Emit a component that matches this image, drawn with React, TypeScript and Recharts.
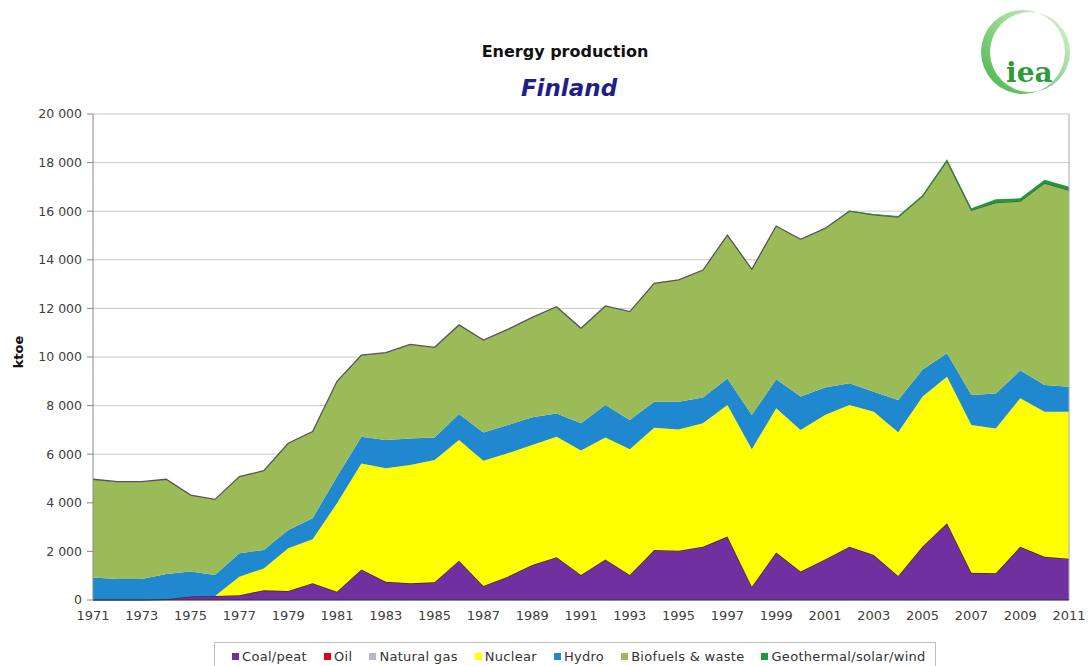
import { AreaChart, Area, XAxis, YAxis, CartesianGrid, ReferenceLine } from 'recharts';

// Finland energy production by source, ktoe
const YEARS = [
  1971, 1972, 1973, 1974, 1975, 1976, 1977, 1978, 1979, 1980,
  1981, 1982, 1983, 1984, 1985, 1986, 1987, 1988, 1989, 1990,
  1991, 1992, 1993, 1994, 1995, 1996, 1997, 1998, 1999, 2000,
  2001, 2002, 2003, 2004, 2005, 2006, 2007, 2008, 2009, 2010, 2011,
];

const COAL = [
  10, 10, 10, 30, 140, 160, 200, 400, 370, 690,
  340, 1260, 750, 690, 730, 1620, 580, 960, 1440, 1760,
  1030, 1670, 1030, 2060, 2030, 2190, 2610, 550, 1950, 1170,
  1670, 2190, 1850, 990, 2200, 3160, 1120, 1100, 2190, 1780, 1700,
];

const OIL = [
  0, 0, 0, 0, 0, 0, 0, 0, 0, 0,
  0, 0, 0, 0, 0, 0, 0, 0, 0, 0,
  0, 0, 0, 0, 0, 0, 0, 0, 0, 0,
  0, 0, 0, 0, 0, 0, 0, 0, 0, 0, 0,
];

const NATURAL_GAS = [
  0, 0, 0, 0, 0, 0, 0, 0, 0, 0,
  0, 0, 0, 0, 0, 0, 0, 0, 0, 0,
  0, 0, 0, 0, 0, 0, 0, 0, 0, 0,
  0, 0, 0, 0, 0, 0, 0, 0, 0, 0, 0,
];

const NUCLEAR = [
  0, 0, 0, 0, 0, 0, 760, 900, 1760, 1810,
  3640, 4360, 4670, 4870, 5030, 4960, 5150, 5080, 4940, 4960,
  5120, 5020, 5170, 5030, 4990, 5080, 5410, 5650, 5940, 5830,
  5940, 5830, 5900, 5910, 6170, 6030, 6080, 5960, 6110, 5970, 6050,
];

const HYDRO = [
  920, 850, 850, 1040, 1030, 870, 960, 760, 750, 860,
  1100, 1100, 1160, 1090, 930, 1070, 1160, 1160, 1140, 960,
  1120, 1330, 1210, 1070, 1140, 1060, 1100, 1410, 1190, 1370,
  1140, 900, 820, 1330, 1120, 960, 1240, 1440, 1140, 1100, 1030,
];

const BIOFUELS = [
  4040, 4010, 4010, 3900, 3150, 3110, 3160, 3260, 3570, 3570,
  3920, 3360, 3600, 3870, 3710, 3670, 3810, 3940, 4110, 4390,
  3910, 4080, 4460, 4870, 5010, 5250, 5900, 6000, 6310, 6470,
  6540, 7080, 7280, 7530, 7130, 7920, 7600, 7850, 6970, 8310, 8090,
];

const GEO_SOLAR_WIND = [
  0, 0, 0, 0, 0, 0, 0, 0, 0, 0,
  0, 0, 0, 0, 0, 0, 0, 0, 0, 0,
  0, 0, 0, 0, 0, 0, 0, 0, 0, 5,
  10, 20, 30, 40, 50, 60, 80, 140, 120, 130, 140,
];

const X_TICKS = [
  1971, 1973, 1975, 1977, 1979, 1981, 1983, 1985, 1987, 1989, 1991,
  1993, 1995, 1997, 1999, 2001, 2003, 2005, 2007, 2009, 2011,
];
const Y_TICKS = [0, 2000, 4000, 6000, 8000, 10000, 12000, 14000, 16000, 18000, 20000];

const SERIES = [
  { key: 'coal', name: 'Coal/peat', color: '#7030A0', stroke: '#4a2530', values: COAL },
  { key: 'oil', name: 'Oil', color: '#E3001B', stroke: 'none', values: OIL },
  { key: 'gas', name: 'Natural gas', color: '#B6B6CC', stroke: 'none', values: NATURAL_GAS },
  { key: 'nuclear', name: 'Nuclear', color: '#FFFF00', stroke: 'none', values: NUCLEAR },
  { key: 'hydro', name: 'Hydro', color: '#1F88CF', stroke: 'none', values: HYDRO },
  { key: 'bio', name: 'Biofuels & waste', color: '#9BBB59', stroke: '#555555', values: BIOFUELS },
  { key: 'geo', name: 'Geothermal/solar/wind', color: '#1E9A3A', stroke: 'none', values: GEO_SOLAR_WIND },
];

const data = YEARS.map((year, i) => {
  const row: Record<string, number> = { year };
  SERIES.forEach((s) => {
    row[s.key] = s.values[i];
  });
  return row;
});

const formatThousands = (v: number) =>
  v >= 1000 ? `${Math.floor(v / 1000)} ${String(v % 1000).padStart(3, '0')}` : String(v);

const FONT = '"DejaVu Sans", Arial, sans-serif';

function IeaLogo() {
  const ring = (cx: number, cy: number, r: number) =>
    `M ${cx - r},${cy} a ${r},${r} 0 1,0 ${2 * r},0 a ${r},${r} 0 1,0 ${-2 * r},0 Z`;
  return (
    <svg width={1088} height={130} style={{ position: 'absolute', left: 0, top: 0 }}>
      <defs>
        <linearGradient id="ieaRing" x1="1" y1="0" x2="0" y2="1">
          <stop offset="0" stopColor="#e2f4dc" />
          <stop offset="0.6" stopColor="#7fd07a" />
          <stop offset="1" stopColor="#45b04a" />
        </linearGradient>
      </defs>
      <path d={`${ring(1023, 52, 42)} ${ring(1030, 52, 40)}`} fill="url(#ieaRing)" fillRule="evenodd" />
      <text x={1006} y={82} fontFamily='"DejaVu Serif", serif' fontWeight="bold" fontSize={28} fill="#2f9a3a">
        iea
      </text>
    </svg>
  );
}

export default function App() {
  return (
    <div
      style={{
        position: 'absolute',
        left: 0,
        top: 0,
        width: 1088,
        height: 666,
        background: '#fff',
        overflow: 'hidden',
        fontFamily: FONT,
      }}
    >
      <IeaLogo />
      <div
        style={{
          position: 'absolute',
          left: 365,
          top: 42,
          width: 400,
          textAlign: 'center',
          fontSize: 16,
          fontWeight: 'bold',
          color: '#111',
        }}
      >
        Energy production
      </div>
      <div
        style={{
          position: 'absolute',
          left: 369,
          top: 75,
          width: 400,
          textAlign: 'center',
          fontSize: 23,
          fontWeight: 'bold',
          fontStyle: 'italic',
          color: '#1f1f8a',
        }}
      >
        Finland
      </div>
      <svg width={40} height={80} style={{ position: 'absolute', left: 0, top: 312 }}>
        <text
          x={0}
          y={0}
          transform="translate(23,40) rotate(-90)"
          textAnchor="middle"
          fontFamily={FONT}
          fontSize={13}
          fontWeight="bold"
          fill="#111"
        >
          ktoe
        </text>
      </svg>

      <div style={{ position: 'absolute', left: 0, top: 0 }}>
        <AreaChart width={1088} height={640} data={data} margin={{ top: 114, right: 19, left: 13, bottom: 10 }}>
          <CartesianGrid vertical={false} stroke="#c8c8c8" />
          <XAxis
            dataKey="year"
            type="number"
            domain={[1971, 2011]}
            ticks={X_TICKS}
            interval={0}
            height={30}
            tickLine={false}
            tickSize={0}
            tickMargin={11}
            axisLine={{ stroke: '#333' }}
            tick={{ fontSize: 13, fill: '#404040', fontFamily: FONT }}
          />
          <YAxis
            width={80}
            domain={[0, 20000]}
            ticks={Y_TICKS}
            interval={0}
            tickFormatter={formatThousands}
            tickSize={6}
            tickMargin={5}
            tickLine={{ stroke: '#888' }}
            axisLine={{ stroke: '#888' }}
            tick={{ fontSize: 12.5, fill: '#404040', fontFamily: FONT }}
          />
          {SERIES.map((s) => (
            <Area
              key={s.key}
              dataKey={s.key}
              name={s.name}
              stackId="prod"
              type="linear"
              fill={s.color}
              fillOpacity={1}
              stroke={s.stroke}
              strokeWidth={1.3}
              dot={false}
              activeDot={false}
              isAnimationActive={false}
            />
          ))}
          <ReferenceLine x={2011} stroke="#a8a8a8" />
        </AreaChart>
      </div>

      <div
        style={{
          position: 'absolute',
          left: 214,
          top: 642,
          width: 722,
          height: 28,
          boxSizing: 'border-box',
          border: '1px solid #bdbdbd',
          display: 'flex',
          alignItems: 'center',
          paddingLeft: 17,
          gap: 17,
          fontSize: 13,
          letterSpacing: 0.3,
          color: '#333',
          whiteSpace: 'nowrap',
        }}
      >
        {SERIES.map((s) => (
          <div key={s.key} style={{ display: 'flex', alignItems: 'center' }}>
            <span style={{ width: 7, height: 7, background: s.color, marginRight: 3, display: 'inline-block' }} />
            {s.name}
          </div>
        ))}
      </div>
    </div>
  );
}
